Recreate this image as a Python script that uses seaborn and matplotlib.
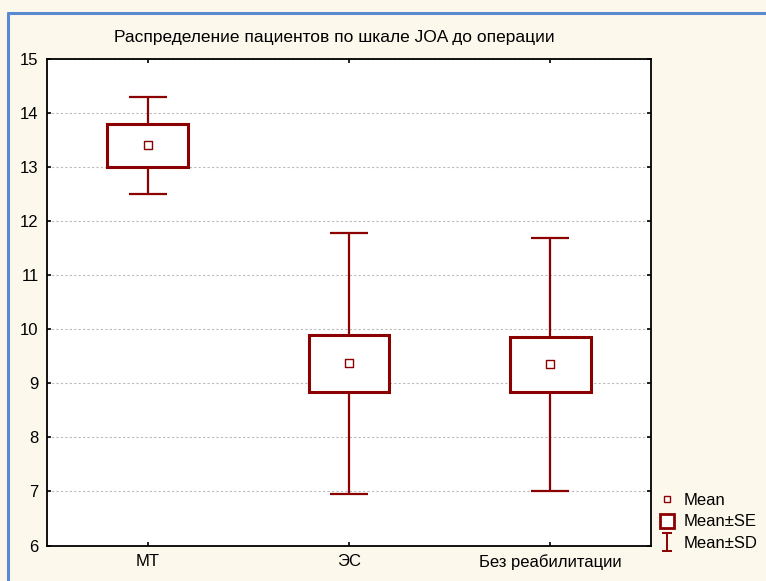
import matplotlib
matplotlib.use("Agg")
import matplotlib.pyplot as plt
from matplotlib.lines import Line2D
from matplotlib.path import Path
import seaborn as sns
import pandas as pd

# Group statistics: JOA score before surgery
groups = ["МТ", "ЭС", "Без реабилитации"]
means = [13.40, 9.37, 9.35]
se = [0.39, 0.53, 0.51]
sd = [0.89, 2.41, 2.34]

title = "Распределение пациентов по шкале JOA до операции"
yticks = [6, 7, 8, 9, 10, 11, 12, 13, 14, 15]

df = pd.DataFrame({"group": groups, "mean": means, "se": se, "sd": sd})
df["pos"] = range(len(groups))

sns.set_theme(style="white")
plt.rcParams["font.family"] = ["Liberation Sans", "DejaVu Sans"]
plt.rcParams["text.color"] = "black"

DARK_RED = "#8B0000"
CREAM = "#FDF8EC"

fig = plt.figure(figsize=(7.66, 5.81), dpi=100, facecolor=CREAM)
ax = fig.add_axes([0.0614, 0.0611, 0.7886, 0.8374])
ax.set_facecolor("white")

# Mean ± SD whiskers (behind the boxes)
ax.errorbar(df["pos"], df["mean"], yerr=df["sd"], fmt="none",
            ecolor=DARK_RED, elinewidth=1.6, capsize=14,
            capthick=1.6, zorder=2)

# Mean ± SE boxes
ax.bar(df["pos"], 2 * df["se"], bottom=df["mean"] - df["se"], width=0.4,
       facecolor="white", edgecolor=DARK_RED, linewidth=2.2, zorder=3)

# Mean markers
sns.scatterplot(data=df, x="pos", y="mean", marker="s", s=30,
                facecolor="white", edgecolor=DARK_RED, linewidth=1.0,
                zorder=4, ax=ax, legend=False)

ax.set_xlim(-0.5, 2.5)
ax.set_ylim(6, 15)
ax.set_xticks(df["pos"])
ax.set_xticklabels(groups, fontsize=12)
ax.set_yticks(yticks)
ax.set_yticklabels([str(t) for t in yticks], fontsize=12)
ax.set_xlabel("")
ax.set_ylabel("")

ax.yaxis.grid(True, linestyle=(0, (2, 2)), color="#BBBBBB", linewidth=0.8)
ax.xaxis.grid(False)
ax.set_axisbelow(True)
for s in ax.spines.values():
    s.set_visible(True)
    s.set_color("black")
    s.set_linewidth(1.3)
ax.tick_params(axis="both", direction="in", length=3, width=1.2,
               colors="black", labelcolor="black", pad=6,
               top=True, right=True, bottom=True, left=True)

fig.text(0.437, 0.936, title, ha="center", va="center", fontsize=12.5,
         color="black")

# Frame lines along the top and left of the figure
fig.add_artist(Line2D([8 / 766, 8 / 766], [0, 1 - 13 / 581],
                      transform=fig.transFigure, color="#5A8AD0", lw=2.2))
fig.add_artist(Line2D([8 / 766, 1], [1 - 13 / 581, 1 - 13 / 581],
                      transform=fig.transFigure, color="#5A8AD0", lw=2.2))

# I-shaped marker for the SD legend entry
ibar = Path([(-0.6, 1), (0.6, 1), (0, 1), (0, -1), (-0.6, -1), (0.6, -1)],
            [Path.MOVETO, Path.LINETO, Path.MOVETO, Path.LINETO,
             Path.MOVETO, Path.LINETO])

handles = [
    Line2D([], [], linestyle="none", marker="s", markersize=5,
           markerfacecolor="white", markeredgecolor=DARK_RED, markeredgewidth=1.0),
    Line2D([], [], linestyle="none", marker="s", markersize=10,
           markerfacecolor="white", markeredgecolor=DARK_RED, markeredgewidth=2.0),
    Line2D([], [], linestyle="none", marker=ibar, markersize=13,
           markerfacecolor="none", markeredgecolor=DARK_RED, markeredgewidth=1.4),
]
leg = fig.legend(handles, ["Mean", "Mean±SE", "Mean±SD"], loc="lower left",
                 bbox_to_anchor=(0.862, 0.052), frameon=False, fontsize=12,
                 handlelength=0.8, handletextpad=0.6, labelspacing=0.38,
                 borderaxespad=0, borderpad=0, labelcolor="black")

fig.savefig("out.png", dpi=100, facecolor=CREAM)
